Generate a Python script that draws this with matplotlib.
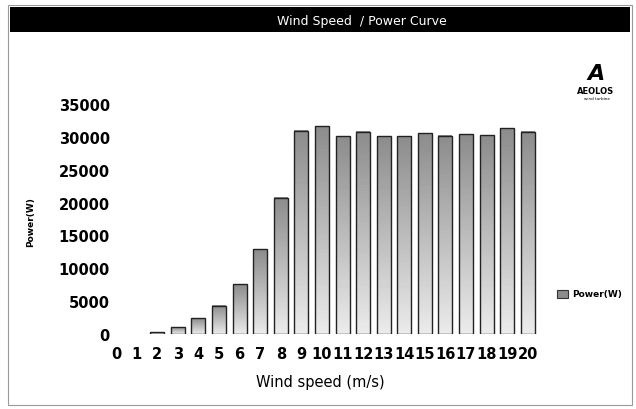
import numpy as np
import matplotlib
matplotlib.use('Agg')
import matplotlib.pyplot as plt
from matplotlib.patches import Rectangle

# wind speed (m/s) and measured power output (W)
wind_speed = list(range(0, 21))
power_w = [0, 0, 300, 1000, 2400, 4300, 7600, 12900, 20700, 30900, 31650,
           30100, 30800, 30100, 30100, 30550, 30150, 30400, 30250, 31300, 30800]
y_ticks = [0, 5000, 10000, 15000, 20000, 25000, 30000, 35000]

BAR_W = 0.68

fig = plt.figure(figsize=(6.36, 4.10), dpi=100)
fig.patch.set_facecolor('white')

# outer frame and black title band
fig.add_artist(Rectangle((8 / 636, 4 / 410), 624 / 636, 400 / 410, transform=fig.transFigure,
                         facecolor='none', edgecolor='#9a9a9a', lw=0.8))
fig.add_artist(Rectangle((10 / 636, 1 - 33 / 410), 620 / 636, 25 / 410, transform=fig.transFigure,
                         facecolor='black', edgecolor='none'))
fig.text(362 / 636, 1 - 21 / 410, 'Wind Speed  / Power Curve', color='white',
         fontsize=9, ha='center', va='center')

ax = fig.add_axes([110 / 636, 1 - 335 / 410, 428 / 636, 230 / 410])

# only speeds that actually produce power get a bar
xs = [x for x, h in zip(wind_speed, power_w) if h > 0]
hs = [h for h in power_w if h > 0]

# gradient fill: darker at the top fading to light at the bottom
grad = np.linspace(0.55, 0.92, 64).reshape(-1, 1)
for x, h in zip(xs, hs):
    ax.imshow(grad, cmap='gray', vmin=0, vmax=1, aspect='auto', origin='upper',
              extent=(x - BAR_W / 2, x + BAR_W / 2, 0, h), zorder=2)
ax.bar(xs, hs, width=BAR_W, facecolor='none', edgecolor='#222222',
       linewidth=1.0, zorder=3)

ax.set_xlim(-0.3, 20.5)
ax.set_ylim(0, 35000)
ax.set_xticks(wind_speed)
ax.set_xticklabels([str(v) for v in wind_speed], fontsize=10.5, fontweight='bold')
ax.set_yticks(y_ticks)
ax.set_yticklabels([str(v) for v in y_ticks], fontsize=10.5, fontweight='bold')
ax.tick_params(axis='x', length=0, pad=9)
ax.tick_params(axis='y', length=0, pad=0)
for s in ax.spines.values():
    s.set_visible(False)

fig.text(320 / 636, 1 - 383 / 410, 'Wind speed (m/s)', fontsize=10.5, ha='center', va='center')
fig.text(31 / 636, 1 - 222 / 410, 'Power(W)', fontsize=6.5, fontweight='bold',
         rotation=90, ha='center', va='center')

# legend entry on the right
fig.add_artist(Rectangle((557 / 636, 1 - 299 / 410), 11 / 636, 8 / 410, transform=fig.transFigure,
                         facecolor='#8c8c8c', edgecolor='#333333', lw=0.8))
fig.text(572 / 636, 1 - 295 / 410, 'Power(W)', fontsize=6.5, fontweight='bold',
         ha='left', va='center')

# logo block
fig.text(596 / 636, 1 - 74 / 410, 'A', fontsize=16, fontweight='bold', fontstyle='italic',
         ha='center', va='center')
fig.text(596 / 636, 1 - 92 / 410, 'AEOLOS', fontsize=6, fontweight='bold',
         ha='center', va='center')
fig.text(597 / 636, 1 - 99 / 410, 'wind turbine', fontsize=3, ha='center', va='center')

fig.savefig('out.png', dpi=100, facecolor='white')
